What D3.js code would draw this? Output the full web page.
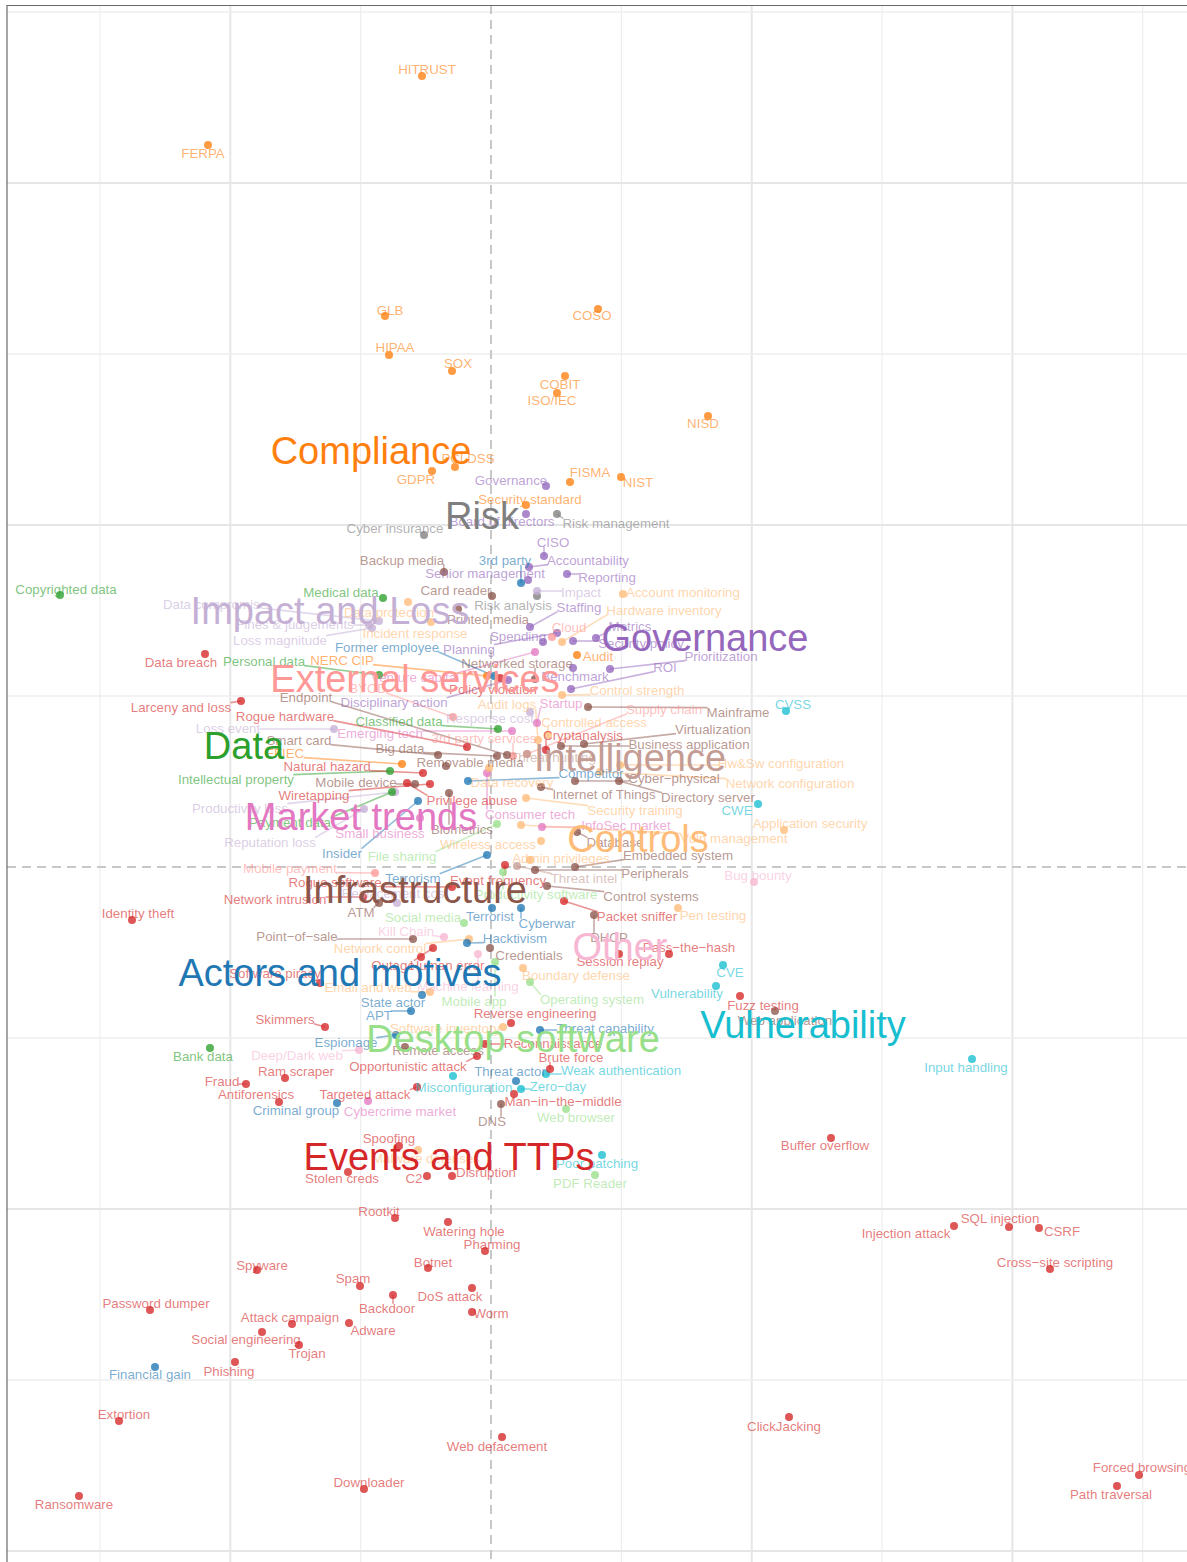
<!DOCTYPE html>
<html>
<head>
<meta charset="utf-8">
<script src="https://cdnjs.cloudflare.com/ajax/libs/d3/7.8.5/d3.min.js"></script>
<style>
  body { margin: 0; background: #fff; }
  svg { display: block; font-family: "Liberation Sans", Arial, Helvetica, sans-serif; }
</style>
</head>
<body>
<script>
// Map of security terms: every term has a position (x, y) and a label anchor (lx, ly)
// rows are [term, x, y, lx, ly]

var categories = ["Compliance", "Risk", "Governance", "Impact and Loss", "External services",
  "Data", "Market trends", "Intelligence", "Controls", "Infrastructure",
  "Actors and motives", "Other", "Vulnerability", "Desktop software", "Events and TTPs"];

var categoryColors = ["#ff7f0e", "#7f7f7f", "#9467bd", "#c5b0d5", "#ff9896",
  "#2ca02c", "#e377c2", "#c49c94", "#ffbb78", "#8c564b",
  "#1f77b4", "#f7b6d2", "#17becf", "#98df8a", "#d62728"];

// where the big category names sit
var categoryLabelX = [-1.20, -0.09, 2.14, -1.61, -0.76, -2.47, -1.30, 1.39, 1.47, -0.76, -1.51, 1.29, 3.12, 0.22, -0.42];
var categoryLabelY = [4.17, 3.52, 2.30, 2.57, 1.89, 1.22, 0.51, 1.10, 0.29, -0.22, -1.05, -0.79, -1.57, -1.71, -2.89];

var complianceTerms = [
  ["HITRUST", -0.69, 7.91, -0.64, 7.98],
  ["FERPA", -2.83, 7.22, -2.88, 7.14],
  ["GLB", -1.06, 5.51, -1.01, 5.57],
  ["COSO", 1.07, 5.58, 1.01, 5.52],
  ["HIPAA", -1.02, 5.12, -0.96, 5.20],
  ["SOX", -0.39, 4.96, -0.33, 5.04],
  ["COBIT", 0.74, 4.91, 0.69, 4.83],
  ["ISO/IEC", 0.66, 4.74, 0.61, 4.67],
  ["NISD", 2.17, 4.51, 2.12, 4.44],
  ["PCI DSS", -0.36, 4.00, -0.23, 4.09],
  ["GDPR", -0.59, 3.96, -0.75, 3.88],
  ["FISMA", 0.79, 3.85, 0.99, 3.95],
  ["NIST", 1.30, 3.90, 1.47, 3.85],
  ["Security standard", 0.35, 3.62, 0.39, 3.68],
  ["Audit", 0.86, 2.12, 1.07, 2.11],
  ["NERC CIP", -0.04, 1.91, -1.49, 2.07],
  ["FFIEC", -0.89, 1.03, -2.06, 1.14]
];

var riskTerms = [
  ["Risk management", 0.66, 3.53, 1.25, 3.44],
  ["Cyber insurance", -0.67, 3.32, -0.96, 3.39],
  ["Risk analysis", 0.46, 2.71, 0.22, 2.62]
];

var governanceTerms = [
  ["Governance", 0.55, 3.81, 0.20, 3.87],
  ["Board of directors", 0.35, 3.53, 0.11, 3.46],
  ["CISO", 0.53, 3.11, 0.62, 3.25],
  ["Accountability", 0.38, 3.00, 0.97, 3.07],
  ["Senior management", 0.37, 2.87, -0.06, 2.94],
  ["Reporting", 0.76, 2.93, 1.16, 2.90],
  ["Staffing", 0.39, 2.40, 0.88, 2.60],
  ["Spending", 0.52, 2.25, 0.27, 2.31],
  ["Planning", 0.66, 2.34, -0.22, 2.18],
  ["Metrics", 1.05, 2.29, 1.39, 2.41],
  ["Security policy", 0.82, 2.26, 1.50, 2.24],
  ["Benchmark", 0.82, 1.99, 0.84, 1.91],
  ["ROI", 0.80, 1.78, 1.74, 2.00],
  ["Prioritization", 1.19, 1.98, 2.30, 2.11],
  ["Disciplinary action", 0.17, 1.87, -0.97, 1.65]
];

var impactTerms = [
  ["Impact", 0.46, 2.76, 0.90, 2.75],
  ["Data compromise", -1.12, 2.46, -2.76, 2.63],
  ["Fines & judgements", -1.22, 2.42, -1.96, 2.43],
  ["Loss magnitude", -1.19, 2.39, -2.11, 2.27],
  ["Response cost", 0.39, 1.55, -0.01, 1.49],
  ["Loss event", -1.57, 1.38, -2.63, 1.39],
  ["Productivity loss", -0.96, 0.75, -2.51, 0.59],
  ["Reputation loss", -1.27, 0.58, -2.21, 0.25],
  ["Replacement cost", -0.94, -0.36, -0.96, -0.26]
];

var externalTerms = [
  ["Cloud", 0.61, 2.30, 0.78, 2.40],
  ["BYOD", -0.38, 1.50, -1.23, 1.79],
  ["3rd party services", 0.22, 1.11, -0.07, 1.29],
  ["Supply chain", 0.36, 1.13, 1.73, 1.58],
  ["Mobile payment", -1.16, -0.06, -2.01, -0.01]
];

var dataTerms = [
  ["Copyrighted data", -4.31, 2.72, -4.25, 2.78],
  ["Medical data", -1.08, 2.69, -1.50, 2.75],
  ["Personal data", -1.12, 1.92, -2.27, 2.06],
  ["Classified data", 0.07, 1.38, -0.92, 1.46],
  ["Intellectual property", -1.01, 0.96, -2.55, 0.88],
  ["Payment data", -0.99, 0.75, -2.01, 0.45],
  ["Bank data", -2.81, -1.81, -2.88, -1.89]
];

var marketTerms = [
  ["Venture capital", 0.44, 2.15, -0.76, 1.90],
  ["Startup", 0.46, 1.44, 0.70, 1.64],
  ["Emerging tech", 0.21, 1.36, -1.11, 1.34],
  ["Consumer tech", -0.04, 0.94, 0.39, 0.53],
  ["InfoSec market", 0.51, 0.40, 1.35, 0.42],
  ["Small business", -0.71, 0.49, -1.11, 0.34],
  ["Cybercrime market", -1.23, -2.34, -0.91, -2.44]
];

var intelligenceTerms = [
  ["Threat intel", 0.26, 0.01, 0.93, -0.11],
  ["Threat hunting", 0.36, 1.13, 0.62, 1.10]
];

var controlsTerms = [
  ["Data protection", -0.83, 2.65, -1.02, 2.55],
  ["Incident response", -0.60, 2.45, -0.76, 2.34],
  ["Account monitoring", 1.32, 2.73, 1.92, 2.75],
  ["Hardware inventory", 0.71, 2.25, 1.73, 2.57],
  ["Control strength", 0.71, 1.72, 1.46, 1.77],
  ["Audit logs", 0.47, 1.27, 0.16, 1.63],
  ["Controlled access", 0.57, 1.32, 1.03, 1.45],
  ["Data recovery", -0.02, 0.99, 0.21, 0.85],
  ["Hw&Sw configuration", 1.29, 1.02, 2.90, 1.04],
  ["Network configuration", 1.09, 0.95, 2.99, 0.84],
  ["Security training", 0.35, 0.69, 1.44, 0.57],
  ["Application security", 2.93, 0.37, 3.19, 0.44],
  ["Vuln management", 0.30, 0.42, 2.43, 0.29],
  ["Wireless access", 0.50, 0.26, -0.03, 0.23],
  ["Admin privileges", 0.39, 0.07, 0.70, 0.09],
  ["Pen testing", 1.87, -0.41, 2.22, -0.48],
  ["Network control", -0.22, -0.72, -1.11, -0.81],
  ["Boundary defense", 0.32, -1.01, 0.85, -1.08],
  ["Email and web", -0.61, -1.25, -1.23, -1.20],
  ["Software inventory", 0.12, -1.60, -0.46, -1.61],
  ["Malware defenses", -0.73, -2.83, -0.65, -2.91]
];

var infrastructureTerms = [
  ["Backup media", -0.47, 2.95, -0.89, 3.07],
  ["Card reader", 0.01, 2.71, -0.35, 2.77],
  ["Printed media", -0.33, 2.58, -0.03, 2.48],
  ["Networked storage", 0.44, 1.88, 0.26, 2.04],
  ["Endpoint", 0.16, 1.12, -1.85, 1.70],
  ["Mainframe", 0.97, 1.60, 2.47, 1.55],
  ["Virtualization", 0.93, 1.23, 2.22, 1.38],
  ["Smart card", -0.53, 1.12, -1.92, 1.27],
  ["Big data", 0.06, 1.11, -0.91, 1.19],
  ["Business application", 0.70, 1.21, 1.98, 1.23],
  ["Removable media", -0.45, 1.01, -0.21, 1.05],
  ["Mobile device", -0.76, 0.83, -1.35, 0.85],
  ["Internet of Things", 0.50, 0.80, 1.13, 0.73],
  ["Cyber\u2212physical", 0.84, 0.86, 1.83, 0.89],
  ["Directory server", 1.28, 0.86, 2.17, 0.70],
  ["Biometrics", -0.42, 0.74, -0.29, 0.38],
  ["Database", 0.86, 0.35, 1.24, 0.25],
  ["Embedded system", 0.84, 0.00, 1.87, 0.12],
  ["Peripherals", 0.44, -0.03, 1.64, -0.06],
  ["Control systems", 0.56, -0.19, 1.60, -0.29],
  ["ATM", -1.12, -0.36, -1.30, -0.45],
  ["Point\u2212of\u2212sale", -0.78, -0.72, -1.94, -0.69],
  ["DHCP", 1.03, -0.48, 1.18, -0.70],
  ["Credentials", -0.01, -0.81, 0.38, -0.88],
  ["Remote access", -0.86, -1.80, -0.53, -1.83],
  ["DNS", 0.10, -2.37, 0.01, -2.54],
  ["Web application", 2.84, -1.44, 2.94, -1.53]
];

var actorsTerms = [
  ["3rd party", 0.30, 2.84, 0.14, 3.07],
  ["Former employee", 0.03, 1.91, -1.04, 2.20],
  ["Competitor", -0.23, 0.86, 1.00, 0.94],
  ["Insider", -0.73, 0.66, -1.49, 0.14],
  ["Terrorism", -0.04, 0.12, -0.78, -0.11],
  ["Terrorist", 0.01, -0.41, -0.01, -0.49],
  ["Cyberwar", 0.30, -0.41, 0.56, -0.56],
  ["Hacktivism", -0.24, -0.76, 0.24, -0.71],
  ["State actor", -0.69, -1.28, -0.98, -1.35],
  ["APT", -0.80, -1.44, -1.12, -1.48],
  ["Threat capability", 0.49, -1.63, 1.14, -1.61],
  ["Espionage", -0.95, -1.68, -1.45, -1.75],
  ["Threat actor", 0.25, -2.14, 0.19, -2.04],
  ["Criminal group", -1.54, -2.36, -1.95, -2.43],
  ["Financial gain", -3.36, -5.00, -3.41, -5.07]
];

var otherTerms = [
  ["Kill Chain", -0.47, -0.70, -0.85, -0.64],
  ["Machine learning", -0.13, -0.87, -0.23, -1.19],
  ["Bug bounty", 2.63, -0.15, 2.67, -0.08],
  ["Deep/Dark web", -1.32, -1.83, -1.94, -1.88]
];

var vulnerabilityTerms = [
  ["CVSS", 2.95, 1.56, 3.02, 1.63],
  ["CWE", 2.67, 0.63, 2.46, 0.57],
  ["CVE", 2.32, -0.98, 2.39, -1.05],
  ["Vulnerability", 2.25, -1.19, 1.96, -1.26],
  ["Weak authentication", 0.55, -2.07, 1.30, -2.03],
  ["Misconfiguration", -0.38, -2.09, -0.27, -2.20],
  ["Zero\u2212day", 0.30, -2.22, 0.67, -2.19],
  ["Poor patching", 1.11, -2.88, 1.06, -2.96],
  ["Input handling", 4.81, -1.92, 4.75, -2.00]
];

var desktopTerms = [
  ["File sharing", 0.06, 0.43, -0.89, 0.11],
  ["Productivity software", 0.12, -0.05, 0.45, -0.27],
  ["Social media", -0.27, -0.56, -0.68, -0.50],
  ["Mobile app", 0.04, -0.95, -0.17, -1.34],
  ["Operating system", 0.39, -1.15, 1.01, -1.32],
  ["Web browser", 0.75, -2.42, 0.85, -2.50],
  ["PDF Reader", 1.04, -3.08, 0.99, -3.16]
];

var eventsTerms = [
  ["Data breach", -2.86, 2.13, -3.10, 2.05],
  ["Larceny and loss", -2.50, 1.66, -3.10, 1.60],
  ["Policy violation", 0.09, 1.89, 0.02, 1.78],
  ["Rogue hardware", -0.24, 1.20, -2.06, 1.51],
  ["Cryptanalysis", 0.55, 1.17, 0.92, 1.32],
  ["Natural hazard", -0.68, 0.94, -1.64, 1.01],
  ["Wiretapping", -0.61, 0.83, -1.77, 0.72],
  ["Privilege abuse", -0.84, 0.84, -0.19, 0.67],
  ["Rogue software", -0.39, -0.20, -1.56, -0.15],
  ["Event frequency", 0.14, 0.02, 0.07, -0.13],
  ["Network intrusion", -1.28, -0.30, -2.16, -0.32],
  ["Identity theft", -3.59, -0.53, -3.53, -0.46],
  ["Packet sniffer", 0.73, -0.34, 1.46, -0.49],
  ["Outage", -0.58, -0.81, -0.98, -0.98],
  ["Human error", -0.70, -0.90, -0.44, -0.98],
  ["Pass\u2212the\u2212hash", 1.78, -0.87, 1.98, -0.80],
  ["Session replay", 1.28, -0.87, 1.29, -0.94],
  ["Software piracy", -1.71, -1.16, -2.16, -1.06],
  ["Fuzz testing", 2.49, -1.29, 2.72, -1.38],
  ["Reverse engineering", 0.20, -1.56, 0.44, -1.46],
  ["Skimmers", -1.66, -1.60, -2.06, -1.52],
  ["Reconnaissance", -0.06, -1.77, 0.62, -1.76],
  ["Brute force", 0.59, -2.02, 0.80, -1.90],
  ["Opportunistic attack", -0.14, -1.89, -0.83, -1.99],
  ["Ram scraper", -2.06, -2.11, -1.95, -2.04],
  ["Fraud", -2.45, -2.17, -2.69, -2.14],
  ["Antiforensics", -2.12, -2.35, -2.35, -2.27],
  ["Targeted attack", -0.74, -2.20, -1.26, -2.27],
  ["Man\u2212in\u2212the\u2212middle", 0.23, -2.27, 0.72, -2.34],
  ["Spoofing", -0.92, -2.79, -1.02, -2.71],
  ["Stolen creds", -1.43, -3.05, -1.49, -3.11],
  ["C2", -0.64, -3.09, -0.77, -3.11],
  ["Disruption", -0.39, -3.09, -0.05, -3.05],
  ["Buffer overflow", 3.40, -2.71, 3.34, -2.78],
  ["Rootkit", -0.96, -3.51, -1.12, -3.44],
  ["Watering hole", -0.43, -3.55, -0.27, -3.64],
  ["Pharming", -0.06, -3.84, 0.01, -3.77],
  ["Botnet", -0.63, -4.01, -0.58, -3.95],
  ["Spyware", -2.34, -4.03, -2.29, -3.98],
  ["Spam", -1.31, -4.19, -1.38, -4.11],
  ["DoS attack", -0.19, -4.21, -0.41, -4.29],
  ["Backdoor", -0.98, -4.28, -1.04, -4.41],
  ["Password dumper", -3.41, -4.43, -3.35, -4.36],
  ["Worm", -0.19, -4.45, 0.00, -4.46],
  ["Attack campaign", -1.99, -4.57, -2.01, -4.50],
  ["Adware", -1.42, -4.56, -1.18, -4.63],
  ["Social engineering", -2.29, -4.65, -2.45, -4.72],
  ["Trojan", -1.92, -4.78, -1.84, -4.86],
  ["Phishing", -2.56, -4.95, -2.62, -5.04],
  ["Extortion", -3.72, -5.54, -3.67, -5.47],
  ["Web defacement", 0.11, -5.70, 0.06, -5.79],
  ["Downloader", -1.27, -6.22, -1.22, -6.15],
  ["Ransomware", -4.12, -6.29, -4.17, -6.37],
  ["SQL injection", 5.18, -3.60, 5.09, -3.51],
  ["Injection attack", 4.63, -3.59, 4.15, -3.66],
  ["CSRF", 5.48, -3.61, 5.71, -3.64],
  ["Cross\u2212site scripting", 5.59, -4.02, 5.64, -3.95],
  ["ClickJacking", 2.98, -5.50, 2.93, -5.59],
  ["Forced browsing", 6.48, -6.08, 6.51, -6.00],
  ["Path traversal", 6.26, -6.19, 6.20, -6.27]
];

// same order as categories
var termLists = [complianceTerms, riskTerms, governanceTerms, impactTerms, externalTerms,
  dataTerms, marketTerms, intelligenceTerms, controlsTerms, infrastructureTerms,
  actorsTerms, otherTerms, vulnerabilityTerms, desktopTerms, eventsTerms];

// grid steps of the map
var xGridStep = 1.3035;
var yGridStep = 1.71;

var width = 1187;
var height = 1562;

var svg = d3.select("body")
  .append("svg")
  .attr("width", width)
  .attr("height", height);

var xScale = d3.scaleLinear().domain([-4.84, 6.96]).range([7, 1187]);
var yScale = d3.scaleLinear().domain([8.62, -6.95]).range([5, 1562]);
var color = d3.scaleOrdinal().domain(categories).range(categoryColors);

// flatten the term lists
var terms = [];
termLists.forEach(function(list, i) {
  list.forEach(function(r) {
    terms.push({ name: r[0], cat: categories[i], x: r[1], y: r[2], lx: r[3], ly: r[4] });
  });
});

// grid
var xGrid = d3.range(-3, 6).map(function(k) { return { k: k, v: k * xGridStep }; });
var yGrid = d3.range(-4, 6).map(function(k) { return { k: k, v: k * yGridStep }; });

var grid = svg.append("g");
grid.selectAll(".vx").data(xGrid.filter(function(d) { return d.k !== 0; }))
  .enter().append("line")
  .attr("x1", d => xScale(d.v)).attr("x2", d => xScale(d.v))
  .attr("y1", 5).attr("y2", height)
  .attr("stroke", d => d.k % 2 === 0 ? "#e6e6e6" : "#eeeeee")
  .attr("stroke-width", d => d.k % 2 === 0 ? 2 : 1.2);

grid.selectAll(".hy").data(yGrid.filter(function(d) { return d.k !== 0; }))
  .enter().append("line")
  .attr("y1", d => yScale(d.v)).attr("y2", d => yScale(d.v))
  .attr("x1", 7).attr("x2", width)
  .attr("stroke", d => d.k % 2 === 0 ? "#e6e6e6" : "#eeeeee")
  .attr("stroke-width", d => d.k % 2 === 0 ? 2 : 1.5);

// dashed zero lines
grid.append("line")
  .attr("x1", xScale(0)).attr("x2", xScale(0)).attr("y1", 5).attr("y2", height)
  .attr("stroke", "#c8c8c8").attr("stroke-width", 2).attr("stroke-dasharray", "9,6");
grid.append("line")
  .attr("y1", yScale(0)).attr("y2", yScale(0)).attr("x1", 7).attr("x2", width)
  .attr("stroke", "#c8c8c8").attr("stroke-width", 2).attr("stroke-dasharray", "9,6");

// panel border (top and left)
grid.append("line").attr("x1", 7).attr("x2", width).attr("y1", 5.5).attr("y2", 5.5)
  .attr("stroke", "#6a6a6a").attr("stroke-width", 1.2);
grid.append("line").attr("x1", 7).attr("x2", 7).attr("y1", 5).attr("y2", height)
  .attr("stroke", "#6a6a6a").attr("stroke-width", 1.2);

var lineGroup = svg.append("g");
var pointGroup = svg.append("g");
var labelGroup = svg.append("g");
var bigGroup = svg.append("g");

// term labels
var labels = labelGroup.selectAll("text")
  .data(terms).enter().append("text")
  .attr("x", d => xScale(d.lx))
  .attr("y", d => yScale(d.ly))
  .attr("dy", "0.35em")
  .attr("text-anchor", "middle")
  .style("font-size", "13.3px")
  .attr("fill", d => color(d.cat))
  .attr("fill-opacity", 0.62)
  .text(d => d.name);

// leader lines from point to the edge of its label
labels.each(function(d) {
  var b = this.getBBox();
  var px = xScale(d.x), py = yScale(d.y);
  var bx = Math.max(b.x + 1, Math.min(px, b.x + b.width - 1));
  var by = Math.max(b.y + 3, Math.min(py, b.y + b.height - 3));
  var dist = Math.hypot(bx - px, by - py);
  if (dist > 7) {
    lineGroup.append("line")
      .attr("x1", px).attr("y1", py)
      .attr("x2", bx).attr("y2", by)
      .attr("stroke", color(d.cat))
      .attr("stroke-opacity", 0.5)
      .attr("stroke-width", 1.6);
  }
});

// points
pointGroup.selectAll("circle")
  .data(terms).enter().append("circle")
  .attr("cx", d => xScale(d.x))
  .attr("cy", d => yScale(d.y))
  .attr("r", 4)
  .attr("fill", d => color(d.cat))
  .attr("fill-opacity", 0.78);

// big category names
bigGroup.selectAll("text")
  .data(categories).enter().append("text")
  .attr("x", (d, i) => xScale(categoryLabelX[i]))
  .attr("y", (d, i) => yScale(categoryLabelY[i]))
  .attr("dy", "0.36em")
  .attr("text-anchor", "middle")
  .style("font-size", "38px")
  .attr("fill", d => color(d))
  .text(d => d);
</script>
</body>
</html>
